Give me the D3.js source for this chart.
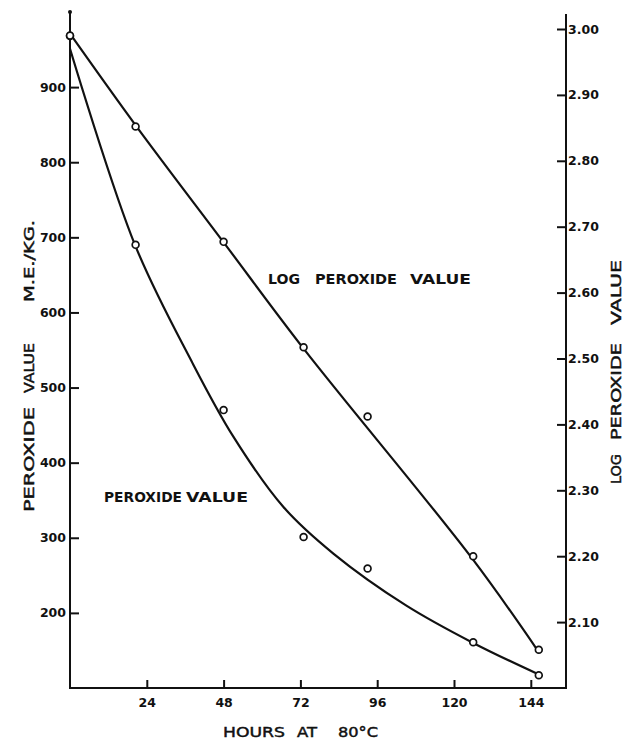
<!DOCTYPE html>
<html>
<head>
<meta charset="utf-8">
<script src="https://cdn.jsdelivr.net/npm/d3@7"></script>
<style>
  html, body { margin: 0; padding: 0; background: #fff; }
  svg { display: block; }
  text { font-family: "DejaVu Sans", sans-serif; fill: #111; }
</style>
</head>
<body>
<svg id="chart" width="623" height="742"></svg>
<script>
// ---- data ----
const hours = [0, 20.5, 48, 73, 93, 126, 146.5];
const peroxideValues = [968, 690, 470, 301, 259, 161, 117];
const logPeroxideValues = [2.99, 2.852, 2.677, 2.517, 2.412, 2.20, 2.058];

// smoothed (hand-drawn) curves
const peroxideCurveHours  = [0, 20.3, 38, 51, 66.7, 82.3, 105, 126, 146.5];
const peroxideCurveValues = [951, 690, 535, 435, 341, 279, 210, 160, 118];
const logCurveHours  = [0, 20.8, 47.9, 73, 125.6, 146];
const logCurveValues = [2.993, 2.852, 2.677, 2.515, 2.197, 2.058];

const xTicks = [24, 48, 72, 96, 120, 144];
const leftTicks = [200, 300, 400, 500, 600, 700, 800, 900];
const rightTicks = [2.10, 2.20, 2.30, 2.40, 2.50, 2.60, 2.70, 2.80, 2.90, 3.00];

const svg = d3.select("#chart");

const x = d3.scaleLinear().domain([0, 155]).range([70, 566]);
const yL = d3.scaleLinear().domain([100, 1000]).range([688, 12]);
const yR = d3.scaleLinear().domain([2.0, 3.0]).range([688, 29]);

// axis lines
svg.append("line").attr("x1", x(0)).attr("x2", x(0)).attr("y1", 12).attr("y2", 689)
  .attr("stroke", "#111").attr("stroke-width", 2);
svg.append("circle").attr("cx", x(0)).attr("cy", 12).attr("r", 2).attr("fill", "#111");
svg.append("line").attr("x1", x(155)).attr("x2", x(155)).attr("y1", 14).attr("y2", 689)
  .attr("stroke", "#111").attr("stroke-width", 2);
svg.append("line").attr("x1", x(0) - 1).attr("x2", x(155) + 1).attr("y1", 688).attr("y2", 688)
  .attr("stroke", "#111").attr("stroke-width", 2.2);

function styleAxis(g) {
  g.select(".domain").remove();
  g.selectAll(".tick line").attr("stroke", "#111").attr("stroke-width", 2);
  g.selectAll(".tick text").attr("font-family", "DejaVu Sans, sans-serif")
    .attr("font-weight", "bold").attr("font-size", 12.5).attr("fill", "#111");
}

// left axis
svg.append("g").attr("transform", `translate(${x(0)},0)`)
  .call(d3.axisLeft(yL).tickValues(leftTicks).tickSizeInner(-9).tickSizeOuter(0).tickPadding(4)
    .tickFormat(d3.format("d")))
  .call(styleAxis);

// right axis
svg.append("g").attr("transform", `translate(${x(155)},0)`)
  .call(d3.axisRight(yR).tickValues(rightTicks).tickSizeInner(-9).tickSizeOuter(0).tickPadding(2)
    .tickFormat(d3.format(".2f")))
  .call(styleAxis);

// bottom axis
svg.append("g").attr("transform", `translate(0,688)`)
  .call(d3.axisBottom(x).tickValues(xTicks).tickSizeInner(-8).tickSizeOuter(0).tickPadding(10)
    .tickFormat(d3.format("d")))
  .call(styleAxis);

// curves
const lineP = d3.line().x((d, i) => x(peroxideCurveHours[i])).y(d => yL(d)).curve(d3.curveCatmullRom.alpha(0.5));
svg.append("path").attr("d", lineP(peroxideCurveValues))
  .attr("fill", "none").attr("stroke", "#111").attr("stroke-width", 2.2);

const lineL = d3.line().x((d, i) => x(logCurveHours[i])).y(d => yR(d)).curve(d3.curveCatmullRom.alpha(0.5));
svg.append("path").attr("d", lineL(logCurveValues))
  .attr("fill", "none").attr("stroke", "#111").attr("stroke-width", 2.2);

// points
svg.append("g").selectAll("circle").data(peroxideValues).join("circle")
  .attr("cx", (d, i) => x(hours[i])).attr("cy", d => yL(d)).attr("r", 3.4)
  .attr("fill", "#fff").attr("stroke", "#111").attr("stroke-width", 1.7);
svg.append("g").selectAll("circle").data(logPeroxideValues).join("circle")
  .attr("cx", (d, i) => x(hours[i])).attr("cy", d => yR(d)).attr("r", 3.4)
  .attr("fill", "#fff").attr("stroke", "#111").attr("stroke-width", 1.7);

// helper for text with fixed length
function label(txt, tx, ty, len, opts = {}) {
  const t = svg.append("text").text(txt)
    .attr("font-size", opts.size || 14)
    .attr("font-weight", opts.weight || "bold")
    .attr("textLength", len).attr("lengthAdjust", "spacingAndGlyphs");
  if (opts.stroke) t.attr("stroke", "#111").attr("stroke-width", opts.stroke);
  if (opts.rotate) t.attr("transform", `translate(${tx},${ty}) rotate(-90)`);
  else t.attr("x", tx).attr("y", ty);
  return t;
}

// in-plot labels
label("LOG", 268, 284, 32, {size: 14});
label("PEROXIDE", 315, 284, 82, {size: 14});
label("VALUE", 410, 284, 61, {size: 14});
label("PEROXIDE", 104, 502, 78, {size: 14});
label("VALUE", 186, 502, 62, {size: 14});

// left axis title
const T = {size: 14, weight: "normal", stroke: 0.45};
label("PEROXIDE", 34, 512, 105, {...T, rotate: true});
label("VALUE", 34, 393, 50, {...T, rotate: true});
label("M.E./KG.", 34, 302, 82, {...T, rotate: true});

// right axis title
label("LOG", 621, 484, 30, {...T, rotate: true});
label("PEROXIDE", 621, 440, 97, {...T, rotate: true});
label("VALUE", 621, 325, 65, {...T, rotate: true});

// x axis title
label("HOURS", 223, 737, 62, T);
label("AT", 297, 737, 20, T);
label("80°C", 338, 737, 40, T);
</script>
</body>
</html>
